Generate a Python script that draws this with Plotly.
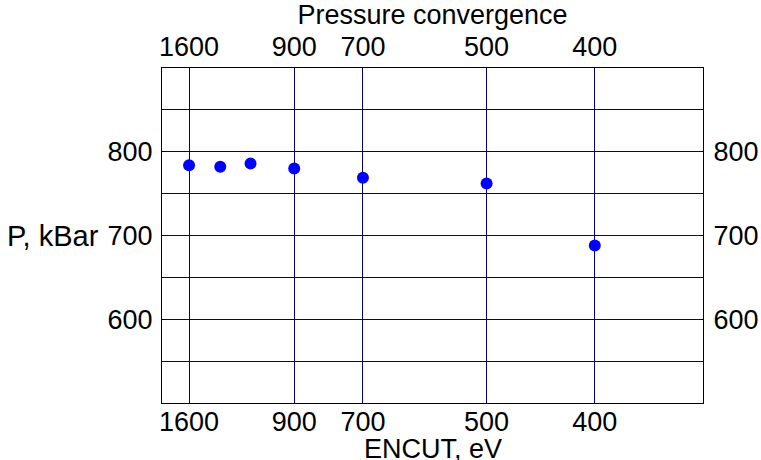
import plotly.graph_objects as go

encut = [1600, 1300, 1100, 900, 700, 500, 400]
pressure = [784, 782, 786, 780, 769, 762, 688]
tick_encut = [1600, 900, 700, 500, 400]
tick_labels = ["1600", "900", "700", "500", "400"]
y_ticks = [600, 700, 800]
y_minor = [550, 650, 750, 850]

inv = [1.0 / e for e in encut]
tick_inv = [1.0 / e for e in tick_encut]

FONT = "Liberation Sans, Arial, sans-serif"
NAVY = "#000080"
FS = 27

fig = go.Figure()
fig.add_trace(go.Scatter(x=inv, y=pressure, mode="markers",
                         marker=dict(color="#0000ff", size=12),
                         showlegend=False, hoverinfo="skip"))
fig.add_trace(go.Scatter(x=inv, y=pressure, mode="markers", xaxis="x2", yaxis="y2",
                         marker=dict(color="rgba(0,0,0,0)", size=1),
                         showlegend=False, hoverinfo="skip"))

xcommon = dict(range=[1 / 2000, 1 / 333.3333], tickvals=tick_inv, ticktext=tick_labels,
               showgrid=True, gridcolor=NAVY, gridwidth=1, zeroline=False,
               showline=True, linecolor="black", linewidth=1, automargin=False,
               ticks="", tickfont=dict(size=FS, color="black", family=FONT))
ycommon = dict(range=[500, 900], tickvals=y_ticks, zeroline=False,
               showline=True, linecolor="black", linewidth=1, automargin=False,
               ticks="inside", ticklen=4, tickcolor="black",
               tickfont=dict(size=FS, color="black", family=FONT))

fig.update_layout(
    width=761, height=460,
    margin=dict(l=162, r=58, t=68, b=57),
    paper_bgcolor="white", plot_bgcolor="white",
    font=dict(family=FONT, color="black", size=FS),
    xaxis=dict(**xcommon, side="bottom", ticklabelstandoff=-5),
    xaxis2=dict(**xcommon, side="top", overlaying="x", matches="x",
                title=dict(text="Pressure convergence", font=dict(size=FS), standoff=0)),
    yaxis=dict(**ycommon, side="left", showgrid=True, gridcolor=NAVY, gridwidth=1,
               ticklabelstandoff=3,
               minor=dict(tickvals=y_minor, showgrid=True, gridcolor=NAVY, gridwidth=1, ticks="")),
    yaxis2=dict(**ycommon, side="right", overlaying="y", matches="y", showgrid=False,
                ticklabelstandoff=4),
    annotations=[
        dict(text="P, kBar", x=0, xref="paper", xanchor="right", xshift=-61,
             y=700, yref="y", yanchor="middle", showarrow=False,
             font=dict(size=29, color="black", family=FONT)),
        dict(text="ENCUT, eV", x=0.5, xref="paper", xanchor="center",
             y=0, yref="paper", yanchor="middle", yshift=-46, showarrow=False,
             font=dict(size=FS, color="black", family=FONT)),
    ],
)

fig.write_html("out.html")
